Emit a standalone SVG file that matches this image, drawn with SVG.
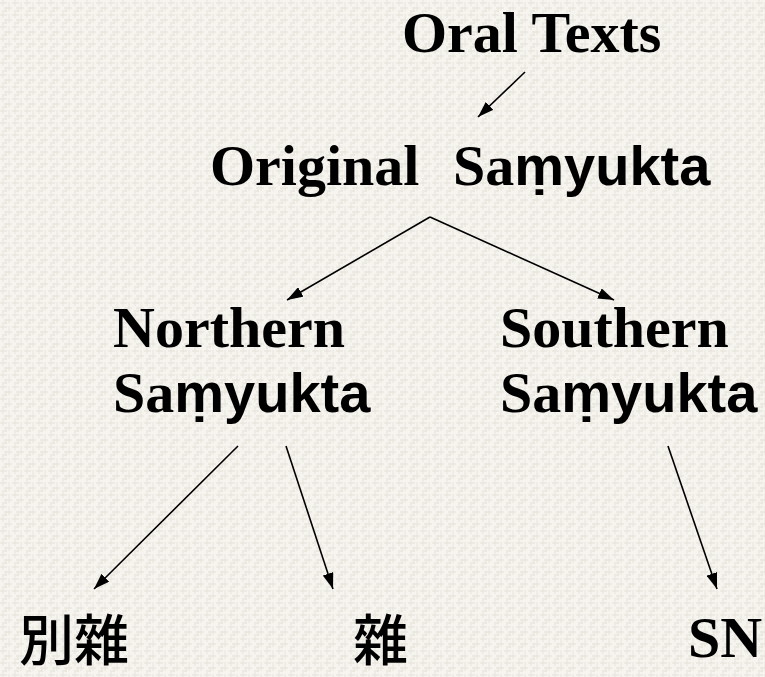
<svg xmlns="http://www.w3.org/2000/svg" width="765" height="677" viewBox="0 0 765 677">
<defs>
<pattern id="tex" width="12" height="12" patternUnits="userSpaceOnUse">
<rect width="12" height="12" fill="#f6f4ef"/>
<path d="M0 3h7M4 8h8M2 11h5" stroke="#e4e0d8" stroke-width="1"/>
<path d="M3 0v6M9 2v9M6 7v5" stroke="#e8e4dc" stroke-width="1"/>
</pattern>
<marker id="ah" viewBox="0 0 16 11" refX="16" refY="5.5" markerWidth="16" markerHeight="11" markerUnits="userSpaceOnUse" orient="auto">
<path d="M0 0L16 5.5L0 11z" fill="#000"/>
</marker>
<style>
.t{font-family:"Liberation Serif","Times New Roman",serif;font-weight:bold;font-size:58px;fill:#000}
.s{font-family:"Liberation Sans",Arial,sans-serif;font-weight:bold;font-size:56px}
.c{font-family:"Noto Sans CJK JP","Noto Sans CJK TC",sans-serif;font-weight:500;font-size:55px;fill:#000}
.a{stroke:#000;stroke-width:1.6;fill:none;marker-end:url(#ah)}
</style>
</defs>
<rect width="765" height="677" fill="url(#tex)"/>
<g id="oral"><text class="t" x="402" y="52">Oral Texts</text></g>
<g id="original"><text class="t" x="210" y="185">Original</text><text class="t" x="453" y="185">Sa<tspan class="s">ṃyukta</tspan></text></g>
<g id="northern"><text class="t" x="113" y="347">Northern</text><text class="t" x="113" y="412">Sa<tspan class="s">ṃyukta</tspan></text></g>
<g id="southern"><text class="t" x="500" y="347">Southern</text><text class="t" x="500" y="412">Sa<tspan class="s">ṃyukta</tspan></text></g>
<g id="bieza"><text class="c" x="19" y="660">別雜</text></g>
<g id="za"><text class="c" x="353" y="660">雜</text></g>
<g id="sn"><text class="t" x="688" y="657">SN</text></g>
<g id="connectors">
<line class="a" x1="525" y1="72" x2="478" y2="117"/>
<line class="a" x1="430" y1="217" x2="287" y2="300"/>
<line class="a" x1="430" y1="217" x2="614" y2="300"/>
<line class="a" x1="238" y1="446" x2="94" y2="589"/>
<line class="a" x1="286" y1="446" x2="333" y2="589"/>
<line class="a" x1="668" y1="446" x2="717" y2="589"/>
</g>
</svg>
